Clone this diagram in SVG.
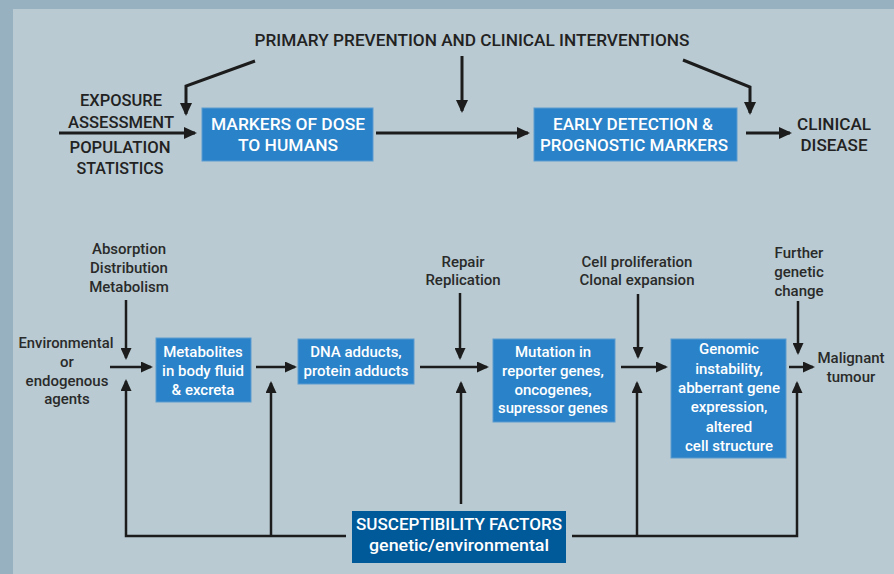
<svg xmlns="http://www.w3.org/2000/svg" width="894" height="574" viewBox="0 0 894 574">
<defs>
<marker id="at" markerWidth="13" markerHeight="12" refX="11" refY="6" orient="auto" markerUnits="userSpaceOnUse"><path d="M0,0 L13,6 L0,12 z" fill="#1c1c1c"/></marker>
<marker id="ab" markerWidth="12" markerHeight="11" refX="10" refY="5.5" orient="auto" markerUnits="userSpaceOnUse"><path d="M0,0 L12,5.5 L0,11 z" fill="#1c1c1c"/></marker>
</defs>
<style>
.top{font-family:Roboto,"Liberation Sans",sans-serif;font-weight:500;font-size:17px;fill:#222;text-anchor:middle}
.topw{font-family:Roboto,"Liberation Sans",sans-serif;font-weight:500;font-size:17px;fill:#fff;text-anchor:middle}
.lab{font-family:Roboto,"Liberation Sans",sans-serif;font-weight:500;font-size:15px;fill:#2a2a2a;text-anchor:middle}
.bw{font-family:Roboto,"Liberation Sans",sans-serif;font-weight:500;font-size:15px;fill:#fff;text-anchor:middle}
.box{fill:#2a82c8;stroke:#5b9bd0;stroke-width:1}
.dbox{fill:#005a9a}
.ct{fill:none;stroke:#1c1c1c;stroke-width:3;marker-end:url(#at);stroke-linejoin:miter}
.cb{fill:none;stroke:#1c1c1c;stroke-width:2.5;marker-end:url(#ab)}
</style>
<rect x="0" y="0" width="894" height="574" fill="#97b1c0"/>
<rect x="13" y="9" width="881" height="565" fill="#b9cad2"/>

<g id="primary-prevention"><text class="top" x="472" y="46" textLength="435" lengthAdjust="spacingAndGlyphs">PRIMARY PREVENTION AND CLINICAL INTERVENTIONS</text></g>
<g id="exposure"><text class="top" x="121" y="106" textLength="82" lengthAdjust="spacingAndGlyphs">EXPOSURE</text><text class="top" x="121" y="128" textLength="106" lengthAdjust="spacingAndGlyphs">ASSESSMENT</text><text class="top" x="120" y="153" textLength="101" lengthAdjust="spacingAndGlyphs">POPULATION</text><text class="top" x="120" y="174" textLength="87" lengthAdjust="spacingAndGlyphs">STATISTICS</text></g>
<g id="markers-dose"><rect class="box" x="202" y="108" width="171" height="53"/><text class="topw" x="288" y="130" textLength="154" lengthAdjust="spacingAndGlyphs">MARKERS OF DOSE</text><text class="topw" x="288" y="151" textLength="100" lengthAdjust="spacingAndGlyphs">TO HUMANS</text></g>
<g id="early-detection"><rect class="box" x="534" y="108" width="203" height="53"/><text class="topw" x="633" y="130" textLength="160" lengthAdjust="spacingAndGlyphs">EARLY DETECTION &amp;</text><text class="topw" x="634" y="151" textLength="188" lengthAdjust="spacingAndGlyphs">PROGNOSTIC MARKERS</text></g>
<g id="clinical-disease"><text class="top" x="834" y="130" textLength="74" lengthAdjust="spacingAndGlyphs">CLINICAL</text><text class="top" x="834" y="151" textLength="67" lengthAdjust="spacingAndGlyphs">DISEASE</text></g>

<g id="absorption"><text class="lab" x="129" y="254">Absorption</text><text class="lab" x="129" y="273">Distribution</text><text class="lab" x="129" y="292">Metabolism</text></g>
<g id="environmental"><text class="lab" x="66" y="348" textLength="95" lengthAdjust="spacingAndGlyphs">Environmental</text><text class="lab" x="67" y="367">or</text><text class="lab" x="67" y="386">endogenous</text><text class="lab" x="67" y="404">agents</text></g>
<g id="metabolites"><rect class="box" x="156" y="338" width="95" height="64"/><text class="bw" x="203" y="357">Metabolites</text><text class="bw" x="203" y="376">in body fluid</text><text class="bw" x="203" y="395">&amp; excreta</text></g>
<g id="dna-adducts"><rect class="box" x="298" y="339" width="116" height="45"/><text class="bw" x="356" y="357">DNA adducts,</text><text class="bw" x="356" y="376">protein adducts</text></g>
<g id="repair"><text class="lab" x="463" y="267">Repair</text><text class="lab" x="463" y="285">Replication</text></g>
<g id="mutation"><rect class="box" x="493" y="339" width="122" height="83"/><text class="bw" x="553" y="357">Mutation in</text><text class="bw" x="553" y="376">reporter genes,</text><text class="bw" x="553" y="395">oncogenes,</text><text class="bw" x="553" y="413" textLength="110" lengthAdjust="spacingAndGlyphs">supressor genes</text></g>
<g id="cell-proliferation"><text class="lab" x="637" y="267">Cell proliferation</text><text class="lab" x="637" y="285">Clonal expansion</text></g>
<g id="genomic"><rect class="box" x="671" y="339" width="115" height="119"/><text class="bw" x="729" y="354">Genomic</text><text class="bw" x="729" y="374">instability,</text><text class="bw" x="729" y="393" textLength="102" lengthAdjust="spacingAndGlyphs">abberrant gene</text><text class="bw" x="729" y="412">expression,</text><text class="bw" x="729" y="432">altered</text><text class="bw" x="729" y="451">cell structure</text></g>
<g id="further"><text class="lab" x="799" y="258">Further</text><text class="lab" x="799" y="277">genetic</text><text class="lab" x="799" y="296">change</text></g>
<g id="malignant"><text class="lab" x="851" y="363">Malignant</text><text class="lab" x="851" y="382">tumour</text></g>
<g id="susceptibility"><rect class="dbox" x="352" y="511" width="214" height="52"/><text class="topw" x="459" y="530" font-size="16" textLength="206" lengthAdjust="spacingAndGlyphs">SUSCEPTIBILITY FACTORS</text><text class="topw" x="459" y="551" font-size="16" textLength="180" lengthAdjust="spacingAndGlyphs">genetic/environmental</text></g>

<g id="connectors">
<path class="ct" d="M255,61 L186,86 L186,114"/>
<path class="ct" d="M462,56 L462,111"/>
<path class="ct" d="M683,60 L750,87 L750,113"/>
<path class="ct" d="M59,133 L195,133"/>
<path class="ct" d="M376,133 L528,133"/>
<path class="ct" d="M746,133 L790,133"/>

<path class="cb" d="M126,300 L126,358"/>
<path class="cb" d="M110,367 L151,367"/>
<path class="cb" d="M346,536 L126,536 L126,381"/>
<path class="cb" d="M271,536 L271,383"/>
<path class="cb" d="M256,367 L295,367"/>
<path class="cb" d="M460,293 L460,358"/>
<path class="cb" d="M420,367 L487,367"/>
<path class="cb" d="M461,504 L461,383"/>
<path class="cb" d="M638,294 L638,357"/>
<path class="cb" d="M621,367 L666,367"/>
<path class="cb" d="M572,536 L797,536 L797,383"/>
<path class="cb" d="M637,536 L637,383"/>
<path class="cb" d="M798,301 L798,353"/>
<path class="cb" d="M789,367 L813,367"/>
</g>
</svg>
